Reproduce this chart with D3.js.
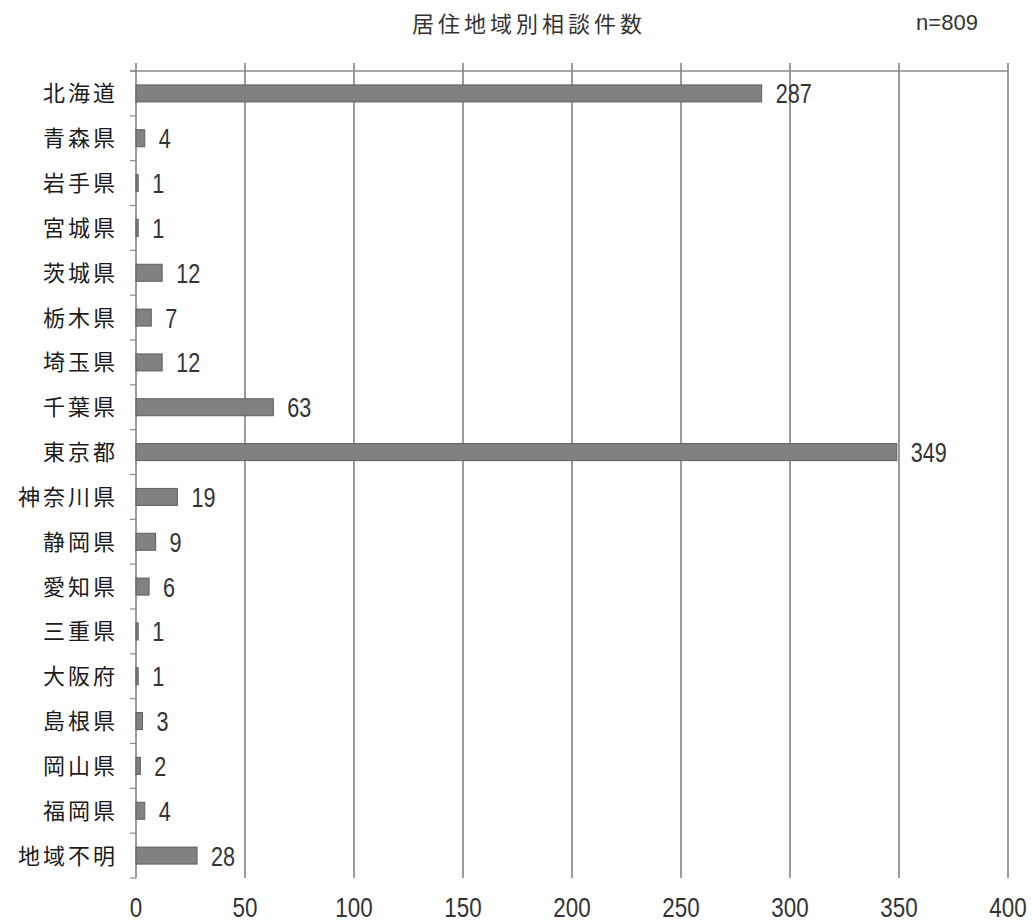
<!DOCTYPE html>
<html><head><meta charset="utf-8">
<script src="https://cdn.jsdelivr.net/npm/d3@7"></script>
<style>body{margin:0;background:#fff}</style>
</head><body>
<svg id="c" width="1032" height="924"></svg>
<script>
const categories = ["北海道","青森県","岩手県","宮城県","茨城県","栃木県","埼玉県","千葉県","東京都","神奈川県","静岡県","愛知県","三重県","大阪府","島根県","岡山県","福岡県","地域不明"];
const values = [287,4,1,1,12,7,12,63,349,19,9,6,1,1,3,2,4,28];
const xTicks = [0,50,100,150,200,250,300,350,400];
const title = "居住地域別相談件数";
const nLabel = "n=809";

const svg = d3.select("#c");
const m = {left:136, right:1008, top:71, bottom:878};
const x = d3.scaleLinear().domain([0,400]).range([m.left, m.right]);
const yRow = d3.scaleBand().domain(categories).range([m.top, m.bottom]);
const numFont = "'Liberation Sans',Arial,sans-serif";
const jpFont = "'Noto Sans CJK JP',sans-serif";
const cond = 0.8;

svg.append("text").attr("x",529).attr("y",32).attr("text-anchor","middle")
  .attr("font-family",jpFont).attr("font-size",22).attr("letter-spacing",4).attr("fill","#333").text(title);
svg.append("text").attr("transform","translate(947,30)").attr("text-anchor","middle")
  .attr("font-family",numFont).attr("font-size",22).attr("fill","#333").text(nLabel);

// gridlines
svg.append("g").selectAll("line").data(xTicks).join("line")
  .attr("x1",d=>x(d)).attr("x2",d=>x(d)).attr("y1",m.top-8).attr("y2",m.bottom)
  .attr("stroke","#7a7a7a").attr("stroke-width",1.5);
// top line
svg.append("line").attr("x1",m.left-6).attr("x2",m.right).attr("y1",m.top).attr("y2",m.top)
  .attr("stroke","#8a8a8a").attr("stroke-width",1.5);
// left ticks at category boundaries
const bounds = categories.map(c=>yRow(c)).concat([m.bottom]);
svg.append("g").selectAll("line").data(bounds).join("line")
  .attr("x1",m.left-6).attr("x2",m.left).attr("y1",d=>d).attr("y2",d=>d)
  .attr("stroke","#8a8a8a").attr("stroke-width",1.2);

// bars
svg.append("g").selectAll("rect").data(values).join("rect")
  .attr("x",x(0)).attr("y",(d,i)=>yRow(categories[i])+yRow.bandwidth()/2-8.5)
  .attr("width",d=>x(d)-x(0)).attr("height",17)
  .attr("fill","#818181").attr("stroke","#5e5e5e").attr("stroke-width",1);

// value labels
svg.append("g").selectAll("text").data(values).join("text")
  .attr("transform",(d,i)=>`translate(${x(d)+14},${yRow(categories[i])+yRow.bandwidth()/2+10}) scale(${cond},1)`)
  .attr("font-family",numFont).attr("font-size",27).attr("fill","#333").text(d=>d);

// category labels
svg.append("g").selectAll("text").data(categories).join("text")
  .attr("x",118).attr("y",d=>yRow(d)+yRow.bandwidth()/2+8)
  .attr("text-anchor","end").attr("font-family",jpFont).attr("font-size",22).attr("letter-spacing",3)
  .attr("fill","#1a1a1a").text(d=>d);

// x tick labels
svg.append("g").selectAll("text").data(xTicks).join("text")
  .attr("transform",d=>`translate(${x(d)},917) scale(${cond},1)`).attr("text-anchor","middle")
  .attr("font-family",numFont).attr("font-size",28).attr("fill","#333").text(d=>d);
</script>
</body></html>
